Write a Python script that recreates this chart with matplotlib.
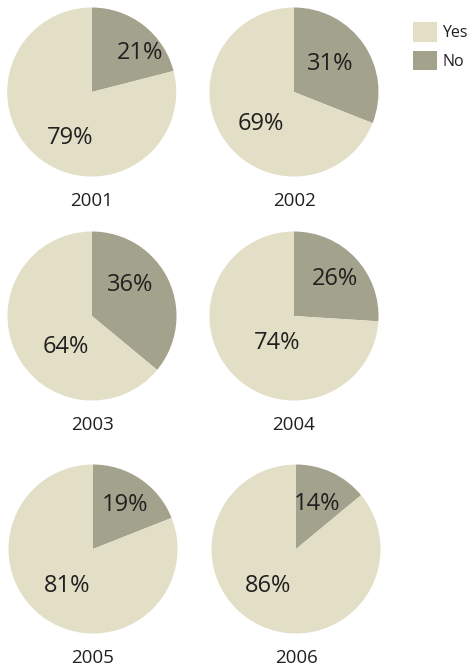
import matplotlib
matplotlib.use("Agg")
import matplotlib.pyplot as plt
from matplotlib.patches import Patch

plt.rcParams['font.family'] = ['Open Sans', 'DejaVu Sans']

years = ['2001', '2002', '2003', '2004', '2005', '2006']
yes_pct = [79, 69, 64, 74, 81, 86]
no_pct = [21, 31, 36, 26, 19, 14]
categories = ['Yes', 'No']

yes_col = '#e2dfc6'
no_col = '#a3a28d'
txt_col = '#231f20'

W, H = 472, 669
fig = plt.figure(figsize=(W / 100, H / 100), dpi=100)

# pie centres in pixels (from top-left) and radius
centres = [(91.7, 92), (294, 92), (92, 316), (294, 316), (93, 549), (296, 549)]
R = 84.5
# where the % labels sit, in radius units (no, yes)
lab_pos = [((0.57, 0.46), (-0.26, -0.54)),
           ((0.43, 0.33), (-0.39, -0.38)),
           ((0.45, 0.37), (-0.31, -0.37)),
           ((0.49, 0.44), (-0.20, -0.32)),
           ((0.38, 0.52), (-0.31, -0.44)),
           ((0.25, 0.53), (-0.33, -0.44))]

for i, yr in enumerate(years):
    cx, cy = centres[i]
    ax = fig.add_axes([(cx - R) / W, 1 - (cy + R) / H, 2 * R / W, 2 * R / H])
    wedges, texts, autotexts = ax.pie(
        [no_pct[i], yes_pct[i]], colors=[no_col, yes_col], startangle=90,
        counterclock=False, radius=1,
        autopct=lambda p: '%d%%' % round(p),
        textprops=dict(color=txt_col, fontsize=17))
    autotexts[0].set_position(lab_pos[i][0])
    autotexts[1].set_position(lab_pos[i][1])
    ax.text(0, -1.29, yr, ha='center', va='center', fontsize=13.5,
            color=txt_col, clip_on=False)
    ax.set_xlim(-1, 1)
    ax.set_ylim(-1, 1)
    ax.set_aspect('equal')
    ax.axis('off')

handles = [Patch(facecolor=yes_col, edgecolor='none'),
           Patch(facecolor=no_col, edgecolor='none')]
fig.legend(handles, categories, loc='upper left',
           bbox_to_anchor=(407 / W, 1 - 16 / H), frameon=False,
           fontsize=11.5, handlelength=1.5, handleheight=1.5,
           labelspacing=0.55, handletextpad=0.3, borderaxespad=0,
           labelcolor=txt_col)

fig.savefig('out.png', dpi=100)
